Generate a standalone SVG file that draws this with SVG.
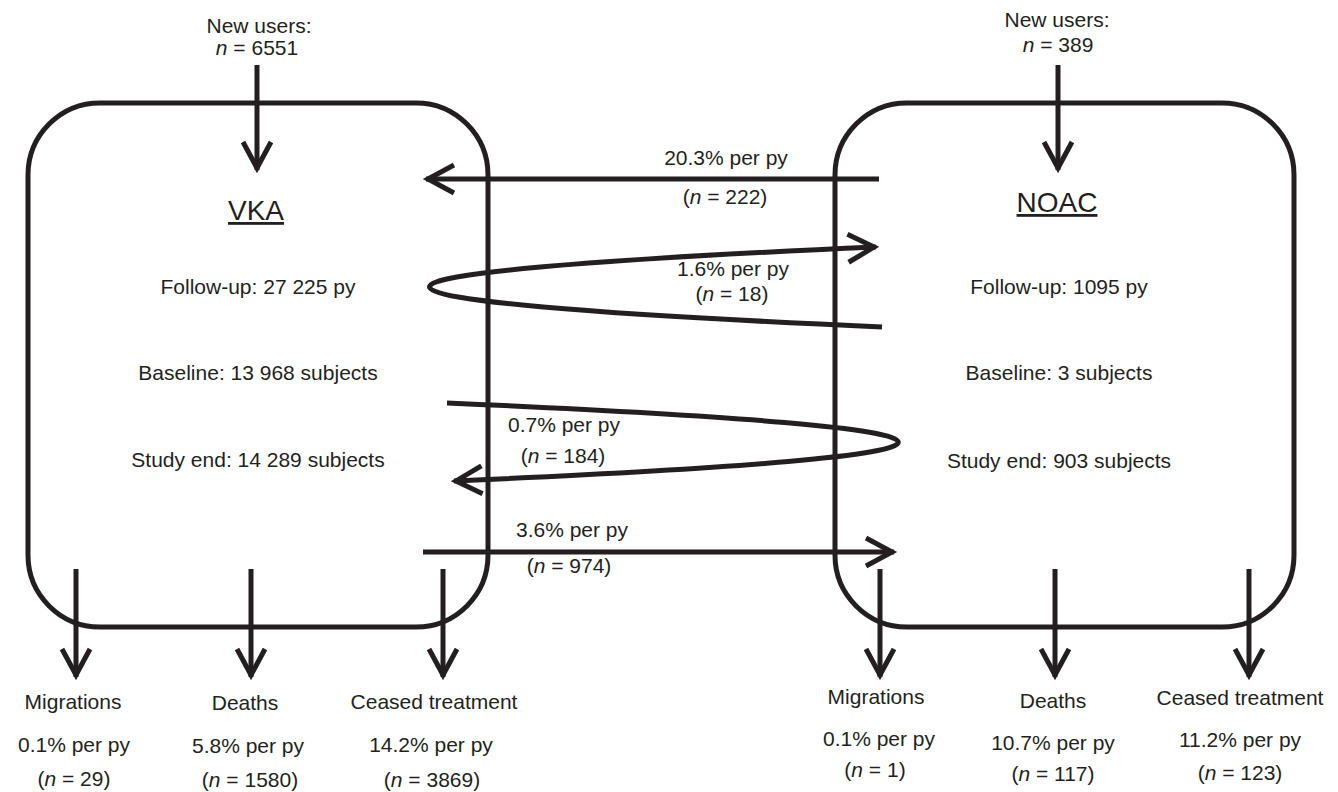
<svg xmlns="http://www.w3.org/2000/svg" width="1338" height="792" viewBox="0 0 1338 792">
<style>
text{font-family:"Liberation Sans",Arial,Helvetica,sans-serif;font-size:21px;fill:#231f20;text-anchor:middle}
.title{font-size:28px;text-decoration:underline}
.box{fill:none;stroke:#231f20;stroke-width:5}
.con{fill:none;stroke:#231f20;stroke-width:5;marker-end:url(#ah)}
.i{font-style:italic}
</style>
<defs>
<marker id="ah" markerUnits="userSpaceOnUse" markerWidth="40" markerHeight="40" viewBox="-35 -20 40 40" refX="0" refY="0" orient="auto" overflow="visible">
<path d="M-28,-14 L-2,0 L-28,14" fill="none" stroke="#231f20" stroke-width="5"/>
</marker>
</defs>
<rect width="1338" height="792" fill="#fff"/>
<g id="vka">
<rect class="box" x="28" y="103" width="460" height="524" rx="72" ry="72"/>
<text class="title" x="256" y="220">VKA</text>
<text x="258" y="294">Follow-up: 27 225 py</text>
<text x="258" y="380">Baseline: 13 968 subjects</text>
<text x="258" y="467">Study end: 14 289 subjects</text>
</g>
<g id="noac">
<rect class="box" x="835" y="103" width="459" height="524" rx="72" ry="72"/>
<text class="title" x="1057" y="212">NOAC</text>
<text x="1059" y="294">Follow-up: 1095 py</text>
<text x="1059" y="380">Baseline: 3 subjects</text>
<text x="1059" y="468">Study end: 903 subjects</text>
</g>
<g id="vka-new">
<text x="259" y="33">New users:</text>
<text x="257" y="55"><tspan class="i">n</tspan> = 6551</text>
</g>
<g id="noac-new">
<text x="1057" y="27">New users:</text>
<text x="1058" y="52"><tspan class="i">n</tspan> = 389</text>
</g>
<g id="vka-migrations">
<text x="73" y="709">Migrations</text>
<text x="74" y="752">0.1% per py</text>
<text x="74" y="786">(<tspan class="i">n</tspan> = 29)</text>
</g>
<g id="vka-deaths">
<text x="245" y="710">Deaths</text>
<text x="248" y="753">5.8% per py</text>
<text x="250" y="787">(<tspan class="i">n</tspan> = 1580)</text>
</g>
<g id="vka-ceased">
<text x="434" y="709">Ceased treatment</text>
<text x="431" y="752">14.2% per py</text>
<text x="432" y="787">(<tspan class="i">n</tspan> = 3869)</text>
</g>
<g id="noac-migrations">
<text x="876" y="704">Migrations</text>
<text x="879" y="746">0.1% per py</text>
<text x="875" y="777">(<tspan class="i">n</tspan> = 1)</text>
</g>
<g id="noac-deaths">
<text x="1053" y="708">Deaths</text>
<text x="1053" y="750">10.7% per py</text>
<text x="1053" y="781">(<tspan class="i">n</tspan> = 117)</text>
</g>
<g id="noac-ceased">
<text x="1240" y="705">Ceased treatment</text>
<text x="1240" y="747">11.2% per py</text>
<text x="1240" y="780">(<tspan class="i">n</tspan> = 123)</text>
</g>
<g id="connectors">
<path class="con" d="M257,65 V170"/>
<path class="con" d="M1058,65 V170"/>
<path class="con" d="M879,179 H426"/>
<path class="con" d="M882,327 Q-20,287 876,247"/>
<path class="con" d="M447,403 Q1346,442 454,481"/>
<path class="con" d="M423,552 H894"/>
<path class="con" d="M76,569 V677"/>
<path class="con" d="M251,569 V677"/>
<path class="con" d="M443,569 V677"/>
<path class="con" d="M880,569 V677"/>
<path class="con" d="M1055,569 V677"/>
<path class="con" d="M1249,569 V677"/>
<text x="726" y="165">20.3% per py</text>
<text x="725" y="204">(<tspan class="i">n</tspan> = 222)</text>
<text x="733" y="276">1.6% per py</text>
<text x="732" y="301">(<tspan class="i">n</tspan> = 18)</text>
<text x="564" y="432">0.7% per py</text>
<text x="563" y="463">(<tspan class="i">n</tspan> = 184)</text>
<text x="572" y="537">3.6% per py</text>
<text x="569" y="573">(<tspan class="i">n</tspan> = 974)</text>
</g>
</svg>
